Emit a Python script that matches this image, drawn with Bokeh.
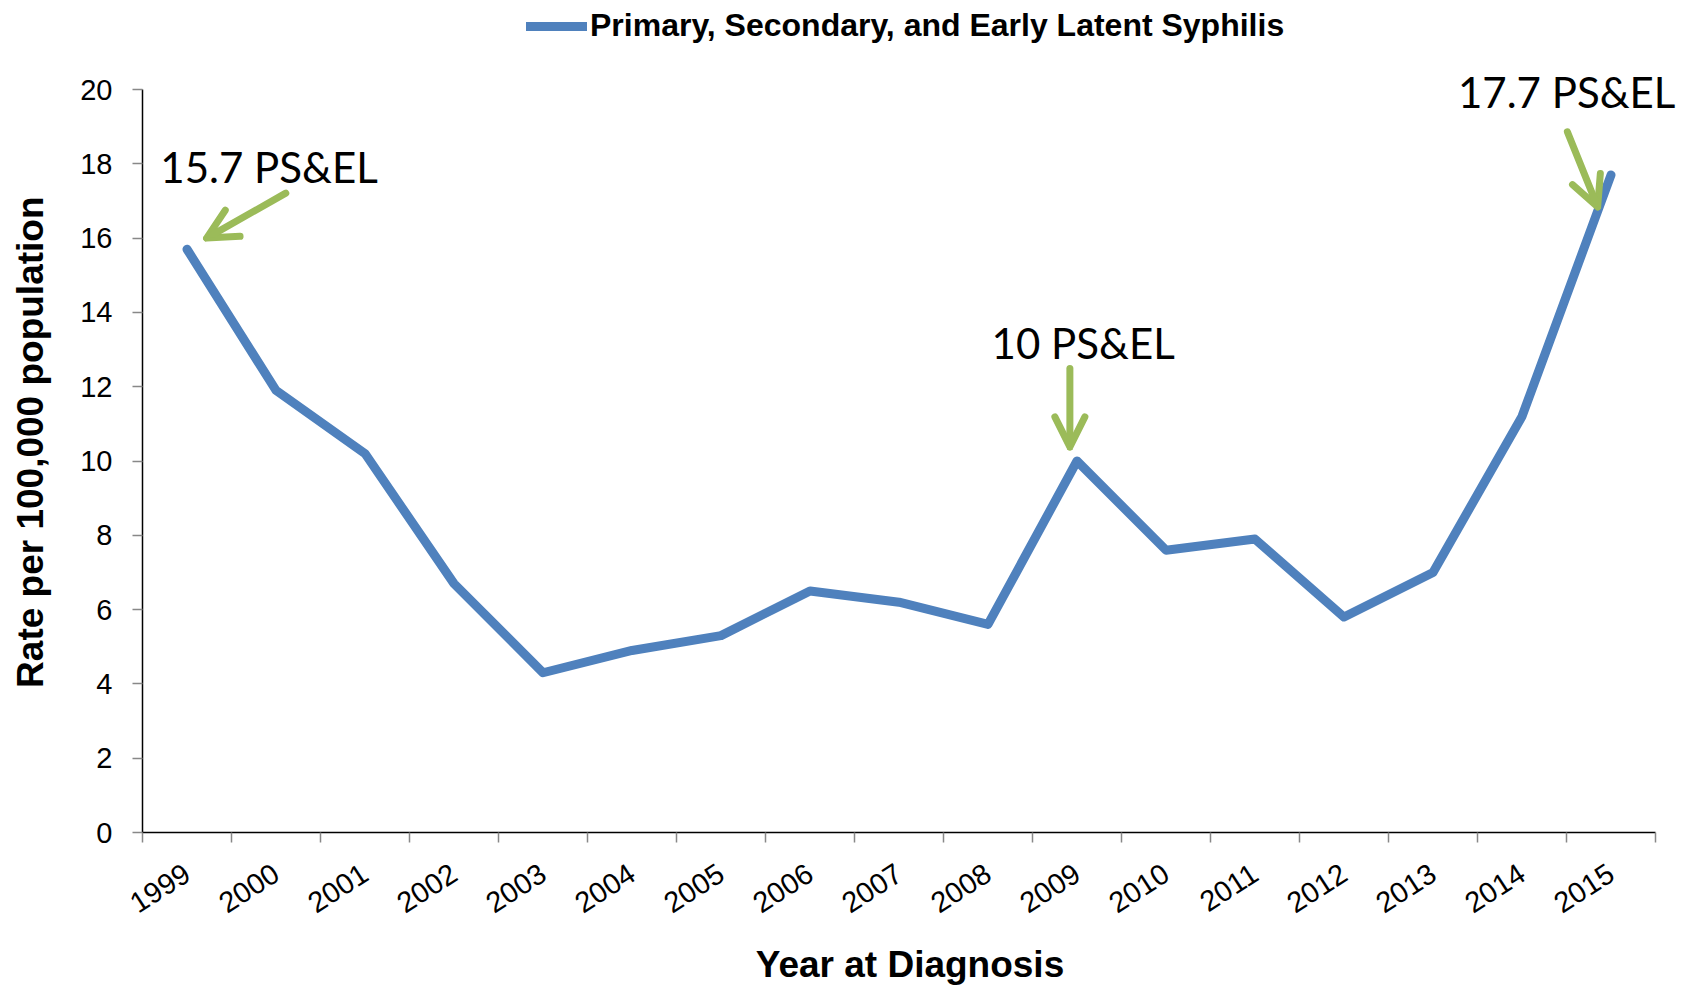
import math
from bokeh.plotting import figure
from bokeh.models import (FixedTicker, Range1d, Legend, LegendItem, Arrow, OpenHead,
                          Label, ColumnDataSource)
from bokeh.embed import file_html
from bokeh.resources import INLINE

# ---- data ----
years = ["1999", "2000", "2001", "2002", "2003", "2004", "2005", "2006", "2007",
         "2008", "2009", "2010", "2011", "2012", "2013", "2014", "2015"]
rates = [15.7, 11.9, 10.2, 6.7, 4.3, 4.9, 5.3, 6.5, 6.2, 5.6, 10.0, 7.6, 7.9, 5.8,
         7.0, 11.2, 17.7]
y_ticks = [0, 2, 4, 6, 8, 10, 12, 14, 16, 18, 20]
series_name = "Primary, Secondary, and Early Latent Syphilis"
x_title = "Year at Diagnosis"
y_title = "Rate per 100,000 population"
callout_texts = ["15.7 PS&EL", "10 PS&EL", "17.7 PS&EL"]

# ---- callout placement (data units) ----
callout_text_pos = [(0.20, 17.91), (9.54, 13.17), (14.78, 19.93)]
callout_arrows = [((1.61, 17.21), (0.72, 16.0)),
                  ((10.42, 12.49), (10.42, 10.38)),
                  ((16.01, 18.86), (16.35, 16.84))]

BLUE = "#4F81BD"
GREEN = "#9BBB59"
FONT = "Liberation Sans"

n = len(years)
y_max = y_ticks[-1]
centers = [i + 0.5 for i in range(n)]
src = ColumnDataSource(dict(x=centers, rate=rates, year=years))

# layout (screen pixels)
FRAME_W, FRAME_H = 1535, 832
PX_PER_CAT, PX_PER_UNIT = 89.0, 37.15

# frame extends beyond the axes (to the right and top) so that the legend and
# call-out texts are not clipped; the axis lines are bounded to the data extent
p = figure(frame_width=FRAME_W, frame_height=FRAME_H, output_backend="svg",
           toolbar_location=None,
           x_range=Range1d(0, FRAME_W / PX_PER_CAT),
           y_range=Range1d(0, FRAME_H / PX_PER_UNIT),
           min_border_left=142, min_border_right=8, min_border_top=0,
           min_border_bottom=153)
p.outline_line_color = None
p.xgrid.visible = False
p.ygrid.visible = False
p.background_fill_color = "white"

r = p.line(x="x", y="rate", source=src, line_color=BLUE, line_width=9,
           line_join="round", line_cap="round")

# x axis: labels at centres, tick marks at category boundaries
xa = p.xaxis[0]
xa.bounds = (0, n)
xa.ticker = FixedTicker(ticks=centers, minor_ticks=list(range(n + 1)))
xa.major_label_overrides = {c: y for c, y in zip(centers, years)}
xa.major_tick_out = 0
xa.major_tick_in = 0
xa.minor_tick_out = 10
xa.minor_tick_in = 0
xa.minor_tick_line_color = "#888888"
xa.minor_tick_line_width = 1.5
xa.axis_line_color = "black"
xa.axis_line_width = 1.5
xa.major_label_orientation = math.radians(33)
xa.major_label_text_font = FONT
xa.major_label_text_font_size = "29px"
xa.major_label_text_color = "black"
xa.major_label_standoff = 28
xa.axis_label = x_title
xa.axis_label_text_font = FONT
xa.axis_label_text_font_style = "bold"
xa.axis_label_text_font_size = "37px"
xa.axis_label_text_color = "black"
xa.axis_label_standoff = 19

ya = p.yaxis[0]
ya.bounds = (0, y_max)
ya.ticker = FixedTicker(ticks=y_ticks)
ya.major_tick_out = 10
ya.major_tick_in = 0
ya.major_tick_line_color = "#888888"
ya.major_tick_line_width = 1.5
ya.minor_tick_line_color = None
ya.axis_line_color = "black"
ya.axis_line_width = 1.5
ya.major_label_text_font = FONT
ya.major_label_text_font_size = "29px"
ya.major_label_text_color = "black"
ya.major_label_standoff = 20
# the frame is taller than the 0-20 axis; trailing no-break spaces keep the
# visible title centred on the 0-20 span instead of on the whole frame
ya.axis_label = y_title + "\u00a0" * 5
ya.axis_label_text_font = FONT
ya.axis_label_text_font_style = "bold"
ya.axis_label_text_font_size = "37px"
ya.axis_label_text_color = "black"
ya.axis_label_standoff = 26

legend = Legend(items=[LegendItem(label=series_name, renderers=[r])],
                location=(384, 788), orientation="horizontal",
                border_line_color=None, background_fill_alpha=0,
                label_text_font=FONT, label_text_font_style="bold",
                label_text_font_size="32px", label_text_color="black",
                glyph_width=61, glyph_height=20, label_standoff=3,
                padding=0, margin=0)
p.add_layout(legend, "center")

for txt, (tx, ty) in zip(callout_texts, callout_text_pos):
    p.add_layout(Label(x=tx, y=ty, text=txt, text_font="Lato",
                       text_font_size="42px", text_color="black",
                       text_align="left", text_baseline="alphabetic"))

for (x0, y0), (x1, y1) in callout_arrows:
    p.add_layout(Arrow(x_start=x0, y_start=y0, x_end=x1, y_end=y1,
                       line_color=GREEN, line_width=7, line_cap="round",
                       end=OpenHead(line_color=GREEN, line_width=7, size=30,
                                    line_cap="round", line_join="round")))

open("out.html", "w").write(file_html(p, INLINE))
